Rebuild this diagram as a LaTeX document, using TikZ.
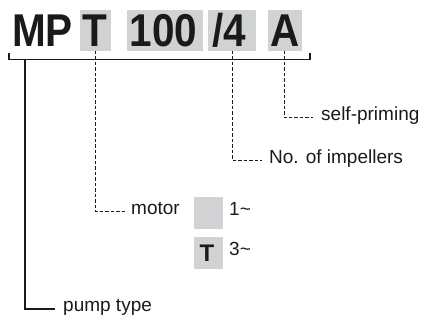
\documentclass[tikz,border=0pt]{standalone}
\usepackage{fontspec}
\setmainfont{Liberation Sans}
\usepackage{graphicx}
\definecolor{boxgray}{RGB}{209,210,212}
\definecolor{ink}{RGB}{26,26,26}
\tikzset{
  gbox/.style={fill=boxgray, draw=none, inner sep=0pt, outer sep=0pt},
  big/.style={inner sep=0pt, anchor=base, text=ink, font=\fontsize{46}{46}\selectfont\bfseries},
  lbl/.style={inner sep=0pt, anchor=mid west, text=ink, font=\fontsize{19}{19}\selectfont},
  dl/.style={draw=ink, line width=1pt, dash pattern=on 3.5pt off 2pt},
  sl/.style={draw=ink, line width=1.3pt}
}
\begin{document}
\begin{tikzpicture}[x=1pt,y=-1pt]
\useasboundingbox (0,0) rectangle (425,320);
% grey boxes
\node[gbox, minimum width=31, minimum height=41] (bT) at (95.5,30.5) {};
\node[gbox, minimum width=76, minimum height=41] (b100) at (165,30.5) {};
\node[gbox, minimum width=48, minimum height=41] (b4) at (232,30.5) {};
\node[gbox, minimum width=34, minimum height=41] (bA) at (285,30.5) {};
% big code letters
\node[big] (tMP) at (42.5,47) {\scalebox{0.88}[1]{MP}};
\node[big] (tT) at (95,47) {\scalebox{0.88}[1]{T}};
\node[big] (t100) at (163.5,47) {\scalebox{0.88}[1]{100}};
\node[big] (t4) at (229.5,47) {\scalebox{0.88}[1]{/4}};
\node[big] (tA) at (285,47) {\scalebox{0.88}[1]{A}};
% bracket
\coordinate (brl) at (9,53);
\coordinate (brr) at (310,53);
\draw[sl] (brl) -- (9,59.5) -- (310,59.5) -- (brr);
% labels
\node[lbl] (pump) at (63,309) {pump type};
\node[lbl] (motor) at (131,212) {motor};
\node[lbl] (imp) at (269,160.5) {No. of impellers};
\node[lbl] (self) at (321,118) {self-priming};
% connectors
\coordinate (pumptop) at (25,59.5);
\draw[sl] (pumptop) |- ([xshift=-8pt]pump.mid west);
\draw[dl] (bT.south -| 95.5,0) |- ([xshift=-4pt]motor.mid west);
\draw[dl] (b4.south -| 232,0) |- ([xshift=-7pt]imp.mid west);
\draw[dl] (bA.south -| 284,0) |- ([xshift=-8pt]self.mid west);
% motor variants
\node[gbox, minimum width=29, minimum height=32] (m1) at (208.5,213) {};
\node[gbox, minimum width=29, minimum height=32] (m3) at (208.5,253) {};
\node[inner sep=0pt, anchor=base, text=ink, font=\fontsize{24}{24}\selectfont\bfseries] (mT) at (207,261) {T};
\node[lbl] (one) at (229,212.5) {1\textasciitilde};
\node[lbl] (three) at (229,252.5) {3\textasciitilde};
\end{tikzpicture}
\end{document}
